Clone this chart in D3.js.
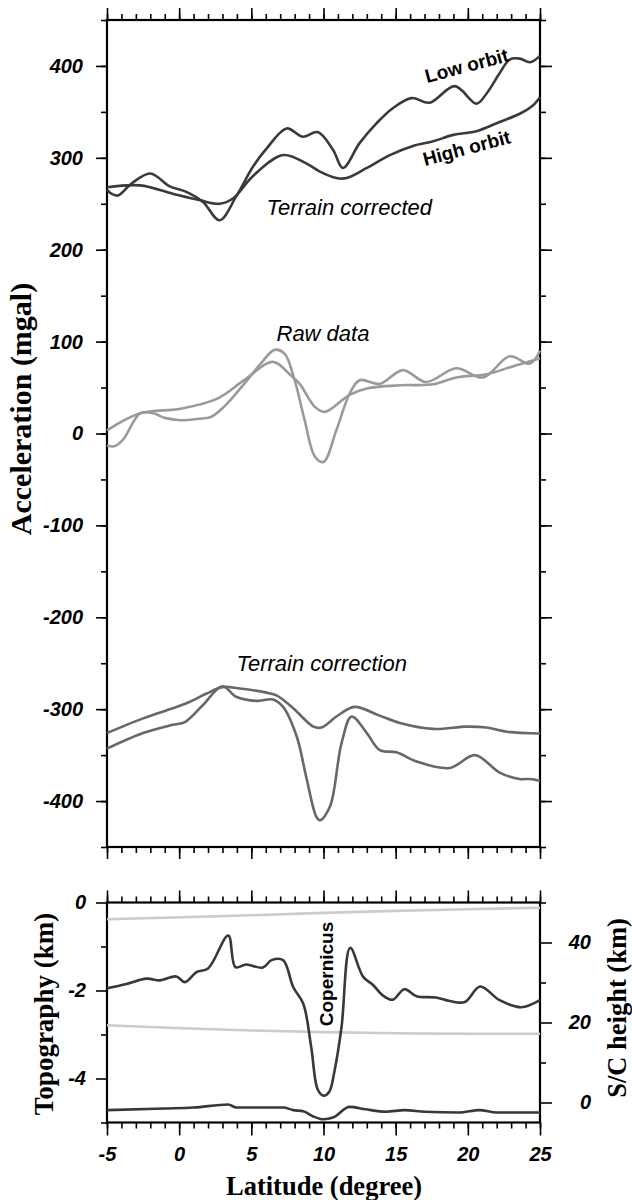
<!DOCTYPE html>
<html>
<head>
<meta charset="utf-8">
<script src="https://cdn.jsdelivr.net/npm/d3@7"></script>
<style>
body { margin: 0; background: #fff; }
svg { display: block; }
</style>
</head>
<body>
<script>
// ---- data (latitude in degrees) ----
var latTicks = [-5, 0, 5, 10, 15, 20, 25];
var accTicks = [-400, -300, -200, -100, 0, 100, 200, 300, 400];
var topoTicks = [-4, -2, 0];
var scTicks = [0, 20, 40];

// terrain corrected, low orbit
var tcLowLat = [-5, -4.7, -4.25, -3.3, -2.0, -0.65, 0.5, 1.65, 2.8, 3.95, 5.1, 6.05, 7.45, 8.55, 9.6, 10.65, 11.35, 12.5, 13.7, 14.8, 16.1, 17.35, 19.1, 20.6, 21.3, 22.2, 22.9, 23.6, 24.3, 25];
var tcLowVal = [265, 261, 259, 272, 283, 269, 263, 252, 232, 258, 290, 310, 332, 323, 328, 309, 289, 316, 338, 354, 365, 360, 378, 359, 370, 392, 407, 408, 404, 411];
// terrain corrected, high orbit
var tcHighLat = [-5, -2.7, -0.45, 1.4, 2.8, 3.75, 5.1, 7.2, 8.8, 9.75, 10.9, 11.6, 13.0, 14.6, 16.2, 17.6, 19.0, 20.6, 22.2, 23.6, 24.5, 25];
var tcHighVal = [268, 270, 261, 254, 250, 256, 280, 303, 294, 285, 278, 278, 289, 303, 313, 318, 325, 329, 339, 348, 357, 366];

// raw data, low orbit
var rawLowLat = [-5, -4.5, -3.9, -2.7, -1.8, -1.0, 0.1, 1.3, 2.2, 3.1, 4.5, 5.65, 6.6, 7.3, 8.0, 8.7, 9.4, 10.0, 10.9, 11.8, 12.5, 13.9, 15.5, 17.1, 19.2, 21.05, 22.9, 24.3, 25];
var rawLowVal = [-13, -14, -7, 22, 22, 17, 14.5, 16, 18, 29, 54, 76, 91, 87, 58, 14, -25, -31, 4, 43, 58, 54, 69, 56, 71, 61, 84, 76, 90];
// raw data, high orbit
var rawHighLat = [-5, -2.7, 0.1, 2.65, 4.5, 6.5, 7.75, 8.35, 9.4, 10.1, 11.8, 13.0, 15.3, 17.6, 19.2, 21.3, 23.1, 24.5, 25];
var rawHighVal = [3.5, 22, 27, 38, 58, 78, 63, 54, 29, 23.5, 42, 49, 52.5, 53.5, 61, 64.5, 73, 79.5, 82];

// terrain correction, high orbit
var corHighLat = [-5, -2.5, -0.45, 0.75, 1.9, 3.0, 4.2, 6.05, 6.75, 7.9, 9.3, 9.85, 10.9, 12.15, 13.8, 15.3, 17.6, 19.9, 21.3, 22.7, 25];
var corHighVal = [-326, -310, -299, -292, -283, -276, -277.5, -282, -285, -299, -319, -320, -308, -297.5, -306.5, -315, -321.5, -319, -320, -324.5, -326.5];
// terrain correction, low orbit
var corLowLat = [-5, -2.5, -0.45, 0.4, 1.65, 3.0, 3.95, 5.35, 6.5, 7.2, 8.15, 8.8, 9.5, 9.75, 10.45, 11.25, 11.95, 13.0, 13.9, 15.05, 16.45, 18.75, 20.5, 22.2, 23.6, 24.3, 25];
var corLowVal = [-343, -326, -317, -314, -295.5, -275, -286.5, -291, -289.5, -297.5, -330, -373.5, -417, -421, -406, -337, -308, -326, -344.5, -347, -357, -364, -350, -369, -376, -376, -378];

// topography (km)
var topoLat = [-5, -3.65, -2.25, -1.35, -0.2, 0.4, 1.2, 2.0, 3.4, 3.9, 4.65, 5.8, 6.4, 7.2, 7.9, 8.6, 9.15, 9.6, 10.0, 10.4, 10.75, 11.25, 11.85, 12.75, 13.45, 14.1, 14.8, 15.6, 16.45, 17.8, 18.75, 19.8, 20.85, 22.2, 23.7, 25];
var topoVal = [-1.95, -1.85, -1.73, -1.77, -1.68, -1.81, -1.58, -1.5, -0.75, -1.47, -1.41, -1.48, -1.31, -1.31, -1.92, -2.3, -3.29, -4.25, -4.39, -4.3, -3.85, -2.83, -1.03, -1.69, -1.88, -2.11, -2.21, -1.97, -2.13, -2.16, -2.24, -2.26, -1.91, -2.22, -2.38, -2.22];

// spacecraft height (km)
var scLowLat = [-5, -1, 1, 3.4, 3.95, 7.2, 7.9, 8.6, 9.3, 10.0, 10.7, 11.8, 12.9, 14.35, 15.6, 17, 19.4, 20.8, 22, 25];
var scLowVal = [-1.9, -1.5, -1.25, -0.5, -1.25, -1.25, -1.9, -2.2, -3.5, -4.2, -3.7, -1.1, -1.7, -2.3, -1.9, -2.3, -2.5, -1.9, -2.5, -2.5];
var scHighLat = [-5, 5, 10, 15, 20, 25];
var scHighVal = [45.8, 46.8, 47.4, 47.9, 48.3, 48.7];
var scMidLat = [-5, 0, 5, 10, 15, 20, 25];
var scMidVal = [19.3, 18.6, 18.0, 17.6, 17.3, 17.2, 17.2];

var sans = '"Liberation Sans", Arial, Helvetica, sans-serif';
var serif = '"Liberation Serif", "Times New Roman", serif';

var x = d3.scaleLinear().domain([-5, 25]).range([107, 540]);
var yAcc = d3.scaleLinear().domain([-450, 450]).range([847, 20]);
var yTopo = d3.scaleLinear().domain([-5, 0]).range([1122.5, 902.5]);
var ySc = d3.scaleLinear().domain([-5, 50]).range([1122.5, 902.5]);

var svg = d3.select('body')
    .append('svg')
    .attr('width', 632)
    .attr('height', 1200);

function addAxis(gen, tx, ty, vals, size, pad, labels) {
    var g = svg.append('g')
        .attr('transform', 'translate(' + tx + ',' + ty + ')')
        .call(gen.tickValues(vals)
            .tickSize(size)
            .tickSizeOuter(0)
            .tickPadding(pad)
            .tickFormat(function (d) {
                return labels ? String(d) : '';
            }));
    g.select('.domain').remove();
    g.selectAll('.tick line')
        .attr('stroke', '#000')
        .attr('stroke-width', 1.6);
    g.selectAll('.tick text')
        .attr('fill', '#000')
        .attr('font-family', sans)
        .attr('font-style', 'italic')
        .attr('font-weight', 'bold')
        .attr('font-size', 20);
    return g;
}

var latMinor = d3.range(-5, 26, 1);

// top panel axes
addAxis(d3.axisTop(x), 0, 20, latMinor, 6, 0, false);
addAxis(d3.axisTop(x), 0, 20, latTicks, 12, 0, false);
addAxis(d3.axisBottom(x), 0, 847, latMinor, 6, 0, false);
addAxis(d3.axisBottom(x), 0, 847, latTicks, 12, 0, false);
addAxis(d3.axisLeft(yAcc), 107, 0, d3.range(-450, 451, 50), 6, 0, false);
addAxis(d3.axisLeft(yAcc), 107, 0, accTicks, 11, 13, true);
addAxis(d3.axisRight(yAcc), 540, 0, d3.range(-450, 451, 50), 6, 0, false);
addAxis(d3.axisRight(yAcc), 540, 0, accTicks, 12, 0, false);

// bottom panel axes
addAxis(d3.axisTop(x), 0, 902.5, latMinor, 6, 0, false);
addAxis(d3.axisTop(x), 0, 902.5, latTicks, 12, 0, false);
addAxis(d3.axisBottom(x), 0, 1122.5, latMinor, 6, 0, false);
addAxis(d3.axisBottom(x), 0, 1122.5, latTicks, 13, 11, true)
    .selectAll('.tick text').attr('dy', '0.71em');
addAxis(d3.axisLeft(yTopo), 107, 0, [-5, -3, -1], 6, 0, false);
addAxis(d3.axisLeft(yTopo), 107, 0, topoTicks, 11, 10, true);
addAxis(d3.axisRight(ySc), 540, 0, [10, 30, 50], 6, 0, false);
addAxis(d3.axisRight(ySc), 540, 0, scTicks, 12, 0, true)
    .selectAll('.tick text')
    .attr('text-anchor', 'end')
    .attr('x', 51);

// frames
svg.append('rect')
    .attr('x', x(-5)).attr('y', yAcc(450))
    .attr('width', x(25) - x(-5)).attr('height', yAcc(-450) - yAcc(450))
    .attr('fill', 'none').attr('stroke', '#000').attr('stroke-width', 2.2);
svg.append('rect')
    .attr('x', x(-5)).attr('y', yTopo(0))
    .attr('width', x(25) - x(-5)).attr('height', yTopo(-5) - yTopo(0))
    .attr('fill', 'none').attr('stroke', '#000').attr('stroke-width', 2.2);

function drawLine(lat, val, y, color, curve) {
    var line = d3.line()
        .x(function (d) { return x(d[0]); })
        .y(function (d) { return y(d[1]); })
        .curve(curve || d3.curveCatmullRom.alpha(0.5));
    svg.append('path')
        .datum(d3.zip(lat, val))
        .attr('d', line)
        .attr('fill', 'none')
        .attr('stroke', color)
        .attr('stroke-width', 2.6)
        .attr('stroke-linejoin', 'round');
}

drawLine(tcHighLat, tcHighVal, yAcc, '#3a3a3a');
drawLine(tcLowLat, tcLowVal, yAcc, '#3a3a3a');
drawLine(rawHighLat, rawHighVal, yAcc, '#9a9a9a');
drawLine(rawLowLat, rawLowVal, yAcc, '#9a9a9a');
drawLine(corHighLat, corHighVal, yAcc, '#686868');
drawLine(corLowLat, corLowVal, yAcc, '#686868');

drawLine(scHighLat, scHighVal, ySc, '#cccccc');
drawLine(scMidLat, scMidVal, ySc, '#cccccc');
drawLine(topoLat, topoVal, yTopo, '#383838', d3.curveCatmullRom.alpha(0.5));
drawLine(scLowLat, scLowVal, ySc, '#383838', d3.curveMonotoneX);

// annotations
function note(txt, tx, ty, rot, size, weight, style, anchor) {
    svg.append('text')
        .attr('transform', 'translate(' + tx + ',' + ty + ') rotate(' + rot + ')')
        .attr('font-family', sans)
        .attr('font-size', size)
        .attr('font-weight', weight)
        .attr('font-style', style)
        .attr('text-anchor', anchor || 'start')
        .attr('fill', '#000')
        .text(txt);
}

note('Low orbit', 427, 83, -15, 19, 'bold', 'normal');
note('High orbit', 425, 166, -15, 19, 'bold', 'normal');
note('Terrain corrected', 266.5, 215, 0, 22, 'normal', 'italic');
note('Raw data', 276.5, 341, 0, 22, 'normal', 'italic');
note('Terrain correction', 236.5, 670.5, 0, 22, 'normal', 'italic');
note('Copernicus', 333, 974, -90, 19, 'bold', 'normal', 'middle');

// axis titles
function title(txt, tx, ty, rot, size) {
    svg.append('text')
        .attr('transform', 'translate(' + tx + ',' + ty + ') rotate(' + rot + ')')
        .attr('font-family', serif)
        .attr('font-weight', 'bold')
        .attr('font-size', size)
        .attr('text-anchor', 'middle')
        .attr('fill', '#000')
        .text(txt);
}

title('Acceleration (mgal)', 31, 409, -90, 30);
title('Topography (km)', 53, 1014, -90, 27);
title('S/C height (km)', 626, 1008, -90, 26.5);
title('Latitude (degree)', 324, 1195, 0, 26.5);
</script>
</body>
</html>
